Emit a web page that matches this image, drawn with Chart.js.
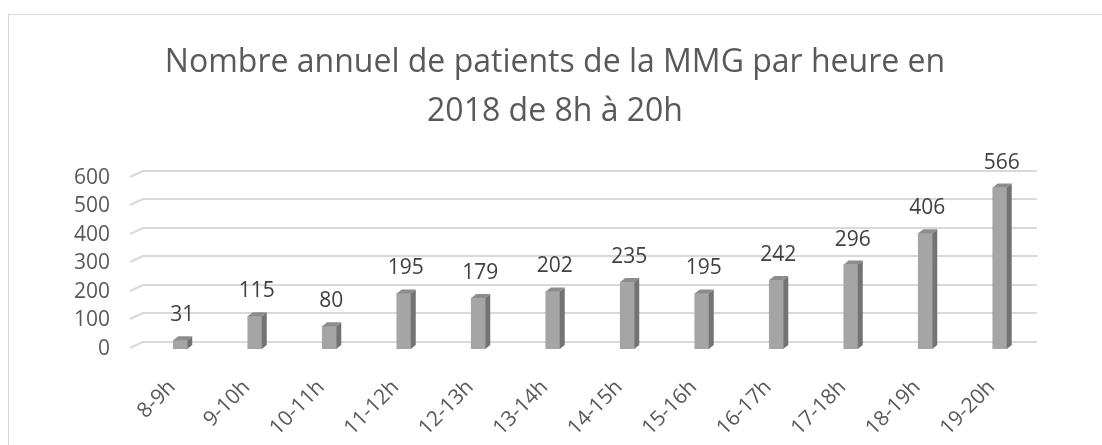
<!DOCTYPE html>
<html>
<head>
<meta charset="utf-8">
<script src="https://cdn.jsdelivr.net/npm/chart.js@4"></script>
<style>
  html, body { margin: 0; padding: 0; background: #fff; }
  #wrap { position: absolute; left: 0; top: 0; width: 1102px; height: 445px; }
  #frame { position: absolute; left: 8px; top: 14px; width: 1200px; height: 500px;
           border-left: 1px solid #d9d9d9; border-top: 1px solid #d9d9d9; box-sizing: border-box; }
</style>
</head>
<body>
<div id="wrap">
  <div id="frame"></div>
  <canvas id="chart" width="1102" height="445"></canvas>
</div>
<script>
var hours = ["8-9h", "9-10h", "10-11h", "11-12h", "12-13h", "13-14h", "14-15h", "15-16h", "16-17h", "17-18h", "18-19h", "19-20h"];
var patients = [31, 115, 80, 195, 179, 202, 235, 195, 242, 296, 406, 566];
var titleLines = ["Nombre annuel de patients de la MMG par heure en", "2018 de 8h à 20h"];

var FONT = "'Open Sans', 'Noto Sans', sans-serif";

// floor / back wall gridlines with the little slanted part on the left
var backGrid = {
  id: "backGrid",
  beforeDatasetsDraw: function(chart){
    var ctx = chart.ctx, y = chart.scales.y, area = chart.chartArea;
    ctx.save();
    ctx.strokeStyle = "#d9d9d9";
    ctx.lineWidth = 2;
    y.ticks.forEach(function(t){
      var py = Math.round(y.getPixelForValue(t.value)) - 7;
      ctx.beginPath();
      ctx.moveTo(area.left - 13, py + 6);
      ctx.lineTo(area.left, py);
      ctx.lineTo(area.right, py);
      ctx.stroke();
    });
    ctx.restore();
  }
};

// side + top faces of the bars, and the value labels
var bars3d = {
  id: "bars3d",
  afterDatasetsDraw: function(chart){
    var ctx = chart.ctx;
    var meta = chart.getDatasetMeta(0);
    var dx = 5, dy = 4;
    ctx.save();
    meta.data.forEach(function(bar, i){
      var l = bar.x - bar.width / 2, r = bar.x + bar.width / 2;
      var top = bar.y, base = bar.base;
      ctx.fillStyle = "#737373";
      ctx.beginPath();
      ctx.moveTo(r, top);
      ctx.lineTo(r + dx, top - dy);
      ctx.lineTo(r + dx, base - dy);
      ctx.lineTo(r, base);
      ctx.closePath();
      ctx.fill();
      ctx.fillStyle = "#8c8c8c";
      ctx.beginPath();
      ctx.moveTo(l, top);
      ctx.lineTo(l + dx, top - dy);
      ctx.lineTo(r + dx, top - dy);
      ctx.lineTo(r, top);
      ctx.closePath();
      ctx.fill();

      ctx.fillStyle = "#404040";
      ctx.font = "21px " + FONT;
      ctx.textAlign = "center";
      ctx.textBaseline = "middle";
      ctx.fillText(String(patients[i]), bar.x + 2, top - 25);
    });
    ctx.restore();
  }
};

new Chart(document.getElementById("chart"), {
  type: "bar",
  data: {
    labels: hours,
    datasets: [{
      data: patients,
      backgroundColor: "#a5a5a5",
      borderWidth: 0,
      barThickness: 14
    }]
  },
  options: {
    responsive: false,
    animation: false,
    events: [],
    layout: { padding: { left: 73, right: 65, top: 0, bottom: 0 } },
    plugins: {
      legend: { display: false },
      tooltip: { enabled: false },
      title: {
        display: true,
        text: titleLines,
        color: "#595959",
        font: { family: FONT, size: 32, weight: "normal", lineHeight: 1.53 },
        padding: { top: 38, bottom: 42 }
      }
    },
    scales: {
      x: {
        grid: { display: false, drawTicks: false },
        border: { display: false },
        ticks: {
          color: "#595959",
          font: { family: FONT, size: 21 },
          minRotation: 45,
          maxRotation: 45,
          autoSkip: false,
          labelOffset: -8,
          padding: 26
        },
        afterFit: function(scale){ scale.height = 96; }
      },
      y: {
        min: 0,
        max: 600,
        grid: { display: false, drawTicks: false },
        border: { display: false },
        ticks: {
          stepSize: 100,
          autoSkip: false,
          color: "#595959",
          font: { family: FONT, size: 21 },
          padding: 33
        },
        afterFit: function(scale){ scale.width = 70; }
      }
    }
  },
  plugins: [backGrid, bars3d]
});
</script>
</body>
</html>
